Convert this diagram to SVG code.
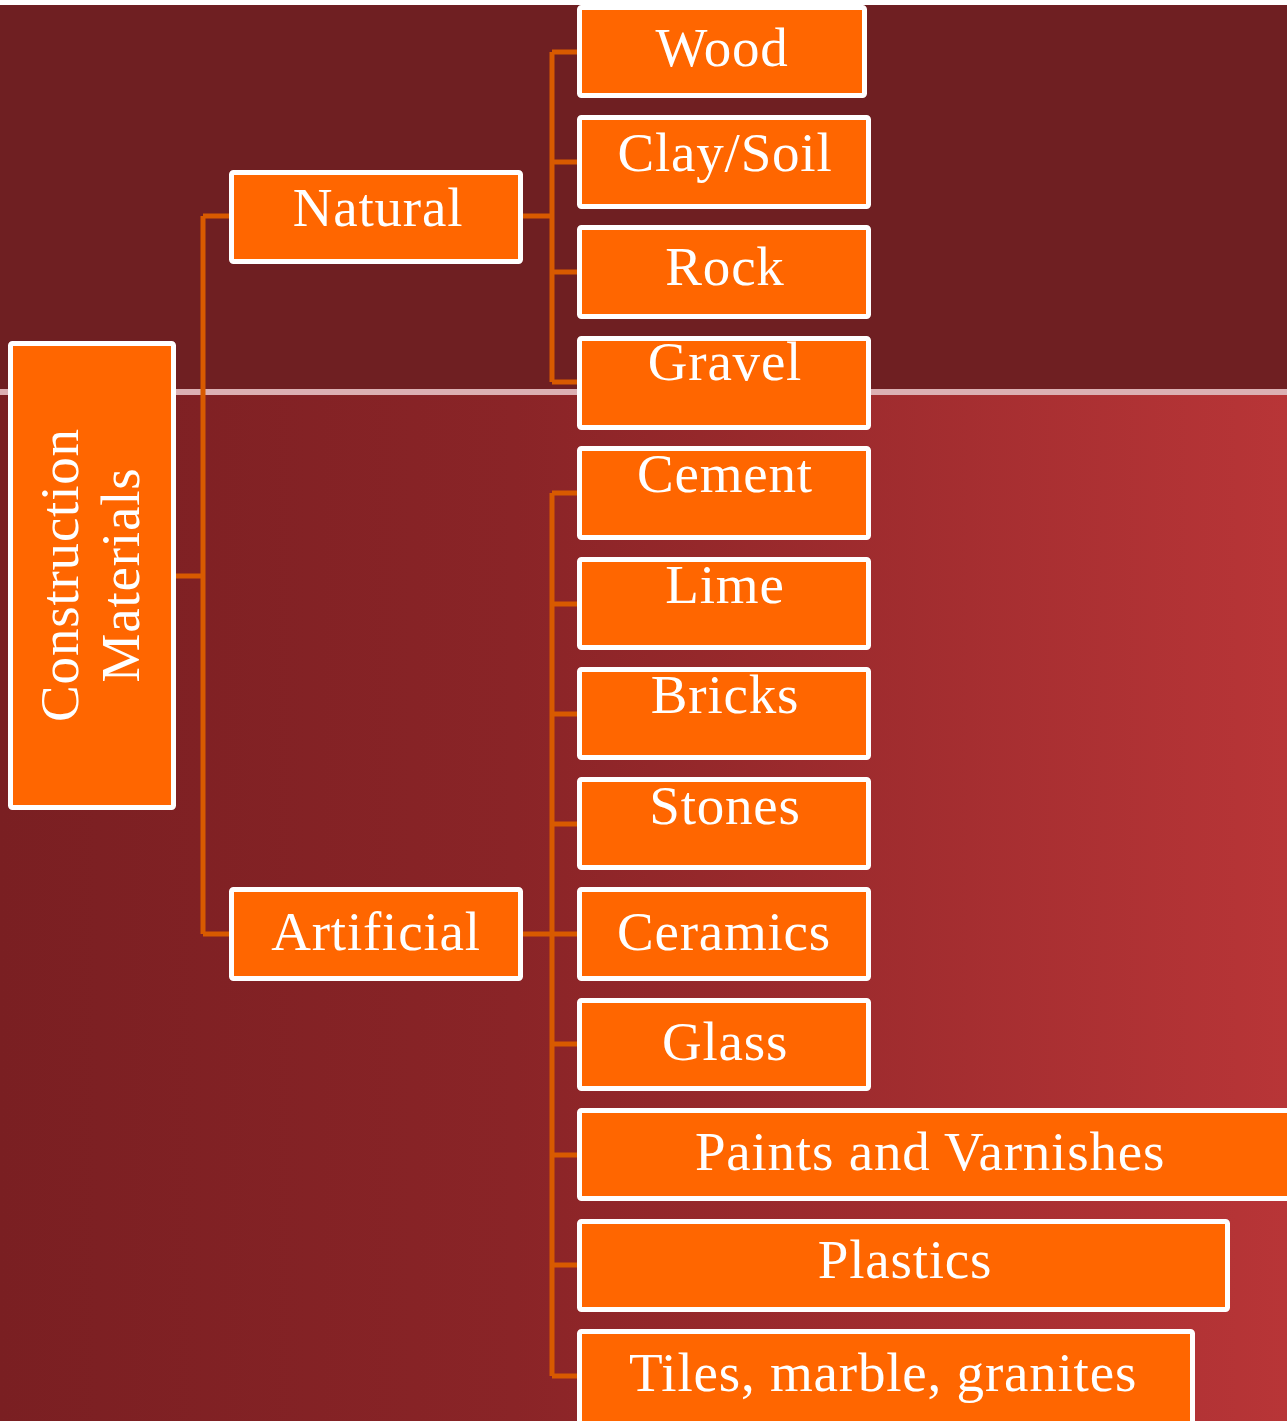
<svg xmlns="http://www.w3.org/2000/svg" width="1287" height="1421" viewBox="0 0 1287 1421">
<defs>
<linearGradient id="bg2" x1="0" y1="0" x2="1" y2="0">
<stop offset="0" stop-color="#7a1f22"/>
<stop offset="0.4" stop-color="#8a2427"/>
<stop offset="1" stop-color="#b83537"/>
</linearGradient>
<style>
.box{fill:#ff6600;stroke:#ffffff;stroke-width:5}
.lbl{font-family:"Liberation Serif",serif;font-size:55px;letter-spacing:0.8px;fill:#ffffff;text-anchor:middle}
.con{fill:none;stroke:#d85a00;stroke-width:5}
</style>
</defs>
<rect x="0" y="0" width="1287" height="1421" fill="#ffffff"/>
<rect x="0" y="5" width="1287" height="387" fill="#6f1f22"/>
<rect x="0" y="392" width="1287" height="1029" fill="url(#bg2)"/>
<rect x="0" y="389" width="1287" height="6" fill="#dcb0b3"/>
<g id="connectors">
<path class="con" d="M176 576 H203 M203 216 V934 M203 216 H229 M203 934 H229"/>
<path class="con" d="M523 216 H552 M552 52 V382 M552 52 H577 M552 162 H577 M552 272 H577 M552 382 H577"/>
<path class="con" d="M523 934 H552 M552 493 V1376 M552 493 H577 M552 604 H577 M552 714 H577 M552 824 H577 M552 934 H577 M552 1044 H577 M552 1155 H577 M552 1265 H577 M552 1376 H577"/>
</g>
<g id="construction"><rect class="box" x="10.5" y="343.5" width="163" height="464" rx="2"/>
<text class="lbl" transform="translate(78,575) rotate(-90)">Construction</text>
<text class="lbl" transform="translate(139,575) rotate(-90)">Materials</text></g>
<g id="natural"><rect class="box" x="231.5" y="172.5" width="289" height="89" rx="2"/><text class="lbl" x="378" y="226">Natural</text></g>
<g id="artificial"><rect class="box" x="231.5" y="889.5" width="289" height="89" rx="2"/><text class="lbl" x="376" y="950">Artificial</text></g>
<g id="wood"><rect class="box" x="579.5" y="7.5" width="285" height="88" rx="2"/><text class="lbl" x="722" y="66">Wood</text></g>
<g id="clay"><rect class="box" x="579.5" y="117.5" width="289" height="89" rx="2"/><text class="lbl" x="725" y="171">Clay/Soil</text></g>
<g id="rock"><rect class="box" x="579.5" y="227.5" width="289" height="89" rx="2"/><text class="lbl" x="725" y="285">Rock</text></g>
<g id="gravel"><rect class="box" x="579.5" y="338.5" width="289" height="89" rx="2"/><text class="lbl" x="725" y="380">Gravel</text></g>
<g id="cement"><rect class="box" x="579.5" y="448.5" width="289" height="89" rx="2"/><text class="lbl" x="725" y="492">Cement</text></g>
<g id="lime"><rect class="box" x="579.5" y="559.5" width="289" height="88" rx="2"/><text class="lbl" x="725" y="603">Lime</text></g>
<g id="bricks"><rect class="box" x="579.5" y="669.5" width="289" height="88" rx="2"/><text class="lbl" x="725" y="713">Bricks</text></g>
<g id="stones"><rect class="box" x="579.5" y="779.5" width="289" height="88" rx="2"/><text class="lbl" x="725" y="824">Stones</text></g>
<g id="ceramics"><rect class="box" x="579.5" y="889.5" width="289" height="89" rx="2"/><text class="lbl" x="724" y="950">Ceramics</text></g>
<g id="glass"><rect class="box" x="579.5" y="1000.5" width="289" height="88" rx="2"/><text class="lbl" x="725" y="1060">Glass</text></g>
<g id="paints"><rect class="box" x="579.5" y="1110.5" width="712" height="88" rx="2"/><text class="lbl" x="930" y="1170">Paints and Varnishes</text></g>
<g id="plastics"><rect class="box" x="579.5" y="1221.5" width="648" height="88" rx="2"/><text class="lbl" x="905" y="1278">Plastics</text></g>
<g id="tiles"><rect class="box" x="579.5" y="1331.5" width="613" height="95" rx="2"/><text class="lbl" x="883" y="1391">Tiles, marble, granites</text></g>
</svg>
